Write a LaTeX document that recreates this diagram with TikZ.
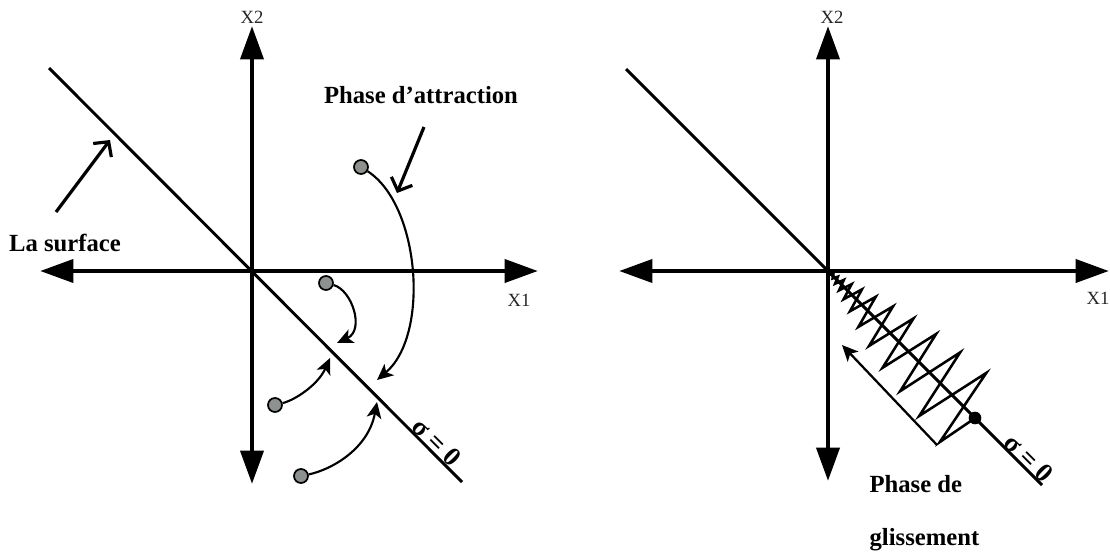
\documentclass[tikz,border=0pt]{standalone}
\usepackage{fontspec}
\setmainfont{Liberation Serif}
\usetikzlibrary{arrows.meta}
\definecolor{ptgray}{HTML}{8E928E}
\begin{document}
\begin{tikzpicture}[x=0.75pt,y=-0.75pt,
  axis/.style={line width=3.6pt,{Triangle[length=25pt,width=17pt]}-{Triangle[length=25pt,width=17pt]}},
  surfline/.style={line width=2.2pt},
  traj/.style={line width=1.6pt,-{Stealth[length=12pt,width=11pt,inset=3pt]}},
  pointer/.style={line width=2.4pt,-{Straight Barb[length=8pt,width=17pt]}},
  slide/.style={line width=1.7pt,-{Stealth[length=12pt,width=11pt,inset=3pt]}},
  zig/.style={line width=1.9pt,line join=miter,miter limit=20},
  pt/.style={circle,draw,line width=1.3pt,fill=ptgray,minimum size=10.5pt,inner sep=0pt},
  lbl/.style={font=\fontsize{18.5}{22}\selectfont\bfseries,inner sep=1pt},
  axl/.style={font=\fontsize{14}{16}\selectfont,text=black!85,inner sep=1pt},
  sig/.style={font=\fontsize{20}{22}\selectfont\bfseries,rotate=-45,anchor=south,inner sep=0.5pt}
]
\useasboundingbox (0,0) rectangle (1110,551);

% ---------------- left panel ----------------
\coordinate (LO) at (252,271);
\coordinate (Ltop) at (252,26);
\coordinate (Lbot) at (252,484);
\coordinate (Lleft) at (40,271);
\coordinate (Lright) at (538,271);
\coordinate (Ld1) at (49,68);
\coordinate (Ld2) at (462,482);
\draw[axis] (Lbot) -- (Ltop);
\draw[axis] (Lleft) -- (Lright);
\draw[surfline] (Ld1) -- (Ld2);
\node[axl] (lx2) at (252,17) {X2};
\node[axl] (lx1) at (519,300) {X1};

\node[lbl] (surf) at (65,243) {La surface};
\coordinate (sa) at (56,212);
\coordinate (sb) at (110,140);
\draw[pointer] (sa) -- (sb);

\node[lbl] (attr) at (421,95) {Phase d’attraction};
\coordinate (aa) at (424,127);
\coordinate (ab) at (397,193);
\draw[pointer] (aa) -- (ab);

\node[pt] (p1) at (361,167) {};
\node[pt] (p2) at (326,283) {};
\node[pt] (p3) at (275,405) {};
\node[pt] (p4) at (301,476) {};
\coordinate (t1) at (377,380);
\coordinate (t2) at (337,343);
\coordinate (t3) at (330,358);
\coordinate (t4) at (377,402);
\draw[traj] (p1) .. controls (420,205) and (430,335) .. (t1);
\draw[traj] (p2) .. controls (352,290) and (365,330) .. (t2);
\draw[traj] (p3) .. controls (295,400) and (318,385) .. (t3);
\draw[traj] (p4) .. controls (330,470) and (368,450) .. (t4);

\node[sig] (lsig) at (430,449) {σ = 0};

% ---------------- right panel ----------------
\coordinate (RO) at (828,271);
\coordinate (Rtop) at (828,26);
\coordinate (Rbot) at (828,481);
\coordinate (Rleft) at (619,271);
\coordinate (Rright) at (1109,271);
\coordinate (Rd1) at (626,69);
\coordinate (Rd2) at (1042,485);
\draw[axis] (Rbot) -- (Rtop);
\draw[axis] (Rleft) -- (Rright);
\draw[surfline] (Rd1) -- (Rd2);
\node[axl] (rx2) at (832,17) {X2};
\node[axl] (rx1) at (1098,298) {X1};

\node[circle,fill=black,minimum size=9.5pt,inner sep=0pt] (dot) at (975,418) {};

\begin{scope}[shift={(828,271)},x={(0.5303pt,-0.5303pt)},y={(0.5303pt,0.5303pt)}]
\draw[zig] (0,0) -- (2,0.5) -- (4,-1) -- (6,1.5) -- (8.5,-2) -- (11,3)
  -- (14,-4) -- (17.5,5) -- (21.5,-6) -- (26,7.5) -- (31,-9) -- (37,11)
  -- (44,-13) -- (52,15.5) -- (61,-18) -- (71,21) -- (82,-24) -- (94,27)
  -- (107,-30) -- (121,32) -- (136,-34) -- (151,36) -- (167,-38)
  -- (184,40) -- (200,-42) -- (208,0);
\end{scope}

\coordinate (ga) at (937,445);
\coordinate (gb) at (842,345);
\draw[slide] (ga) -- (gb);

\node[sig] (rsig) at (1022,465) {σ = 0};

\node[lbl,anchor=west] (gl1) at (868,484) {Phase de};
\node[lbl,anchor=west] (gl2) at (868,540) {glissement};
\end{tikzpicture}
\end{document}
